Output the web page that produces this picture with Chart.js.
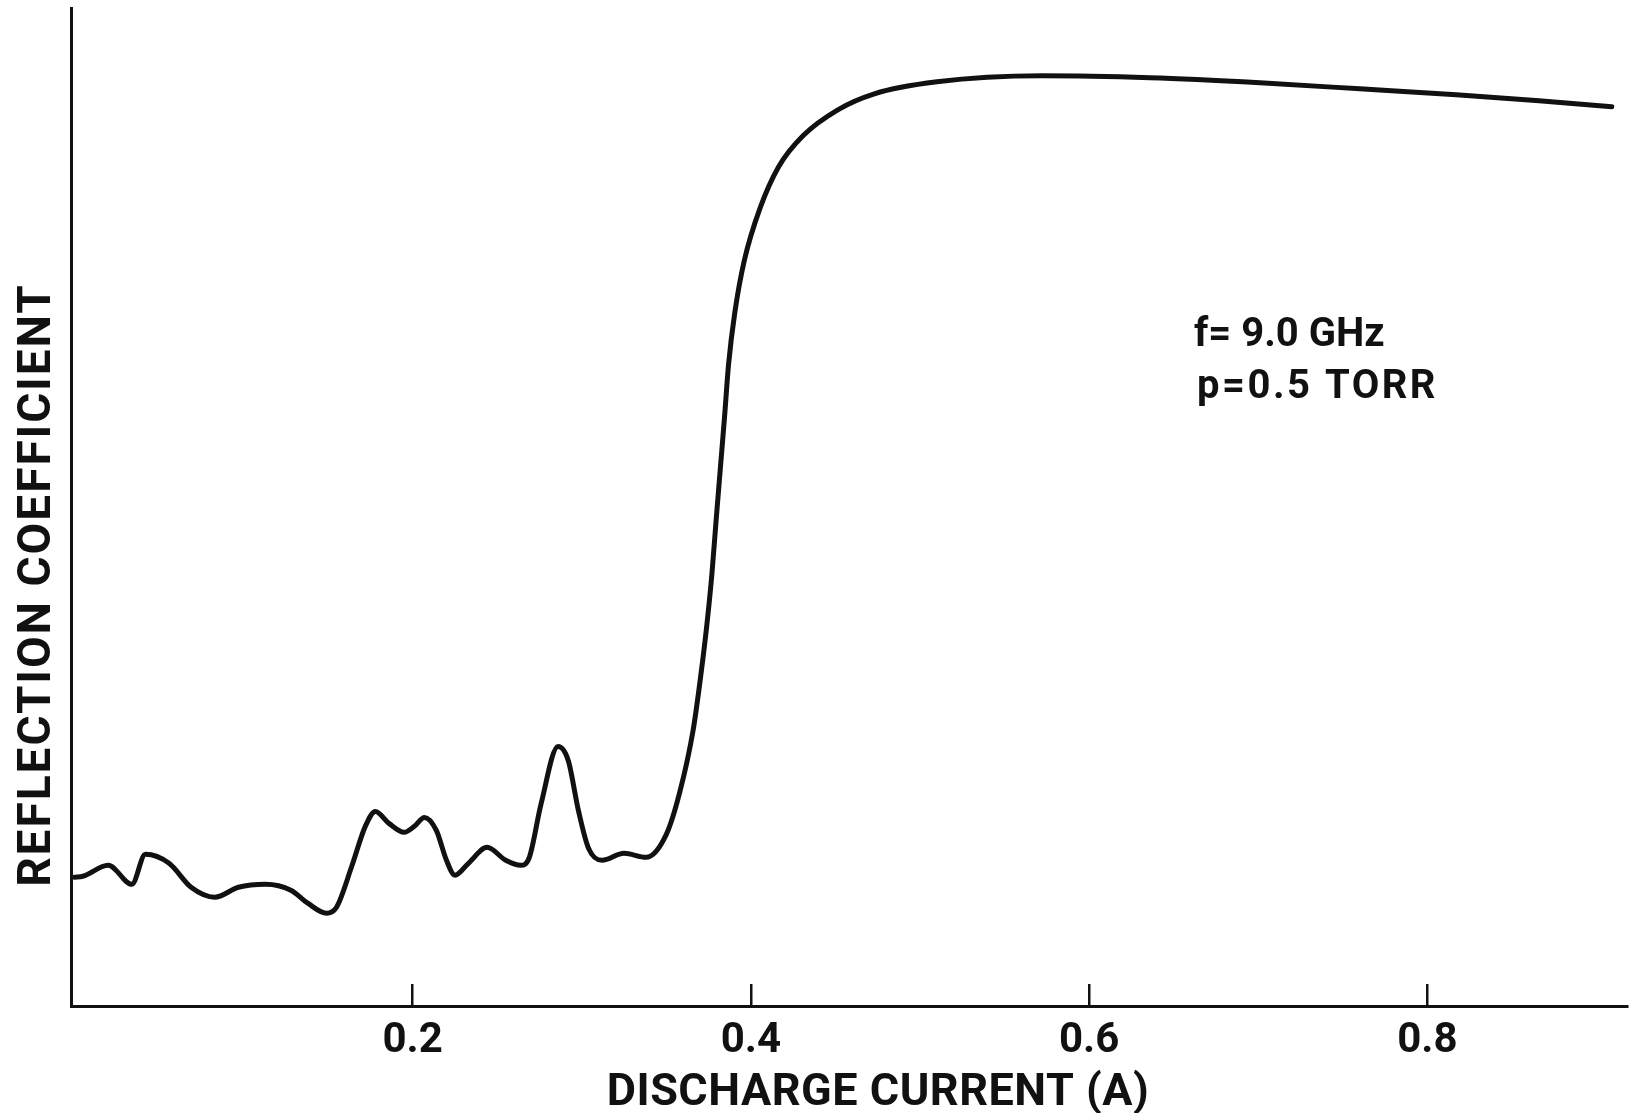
<!DOCTYPE html>
<html>
<head>
<meta charset="utf-8">
<title>Reflection coefficient vs discharge current</title>
<script src="https://cdn.jsdelivr.net/npm/chart.js@4/dist/chart.umd.min.js"></script>
<style>
  html, body { margin: 0; padding: 0; background: #ffffff; }
  #wrap { width: 1634px; height: 1113px; position: relative; }
</style>
</head>
<body>
<div id="wrap"><canvas id="chart"></canvas></div>
<script>
// Discharge current (A) along the trace
const currentA = [
  0.000, 0.005, 0.020, 0.034, 0.042, 0.056, 0.069, 0.083, 0.097, 0.113,
  0.128, 0.138, 0.149, 0.155, 0.164, 0.172, 0.178, 0.186, 0.195, 0.201,
  0.207, 0.214, 0.220, 0.225, 0.233, 0.244, 0.255, 0.264, 0.269, 0.276,
  0.286, 0.292, 0.298, 0.304, 0.312, 0.325, 0.338, 0.350, 0.3579, 0.3659,
  0.3702, 0.3739, 0.3770, 0.3794, 0.3819, 0.3844, 0.3868, 0.3905, 0.3961, 0.4053,
  0.4164, 0.4308, 0.4514, 0.4730, 0.510, 0.572, 0.636, 0.701, 0.760, 0.817,
  0.866, 0.909
];

// Reflection coefficient (relative units, full axis height = 1)
const reflection = [
  0.129, 0.130, 0.141, 0.122, 0.152, 0.143, 0.119, 0.109, 0.119, 0.122,
  0.116, 0.103, 0.093, 0.099, 0.140, 0.180, 0.195, 0.183, 0.174, 0.180,
  0.189, 0.176, 0.146, 0.131, 0.143, 0.159, 0.146, 0.141, 0.149, 0.203,
  0.260, 0.246, 0.196, 0.158, 0.146, 0.153, 0.149, 0.172, 0.214, 0.277,
  0.329, 0.381, 0.434, 0.486, 0.538, 0.590, 0.643, 0.695, 0.747, 0.799,
  0.841, 0.872, 0.898, 0.914, 0.926, 0.932, 0.930, 0.925, 0.919, 0.913,
  0.907, 0.901
];

// Current axis ticks
const tickValues = [0.2, 0.4, 0.6, 0.8];
const tickLabels = ['0.2', '0.4', '0.6', '0.8'];

const xTitle = 'DISCHARGE CURRENT (A)';
const yTitle = 'REFLECTION COEFFICIENT';
const noteLines = ['f= 9.0 GHz', 'p=0.5 TORR'];

const INK = '#111111';
const FONT = 'Roboto, "Liberation Sans", "DejaVu Sans", sans-serif';

// Axis titles and the operating-condition note
const figureText = {
  id: 'figureText',
  afterDraw(chart) {
    const { ctx, scales } = chart;
    ctx.save();
    ctx.fillStyle = INK;
    ctx.textBaseline = 'middle';

    ctx.font = `bold 45px ${FONT}`;
    ctx.textAlign = 'center';
    ctx.letterSpacing = '0.5px';
    ctx.fillText(xTitle, 878, 1094);

    ctx.save();
    ctx.translate(38, 585);
    ctx.rotate(-Math.PI / 2);
    ctx.font = `bold 46px ${FONT}`;
    ctx.letterSpacing = '2px';
    ctx.fillText(yTitle, 0, 0);
    ctx.restore();

    ctx.font = `bold 40px ${FONT}`;
    ctx.textAlign = 'left';
    const nx = scales.x.getPixelForValue(0.662);
    ctx.letterSpacing = '0px';
    ctx.fillText(noteLines[0], nx, scales.y.getPixelForValue(0.671));
    ctx.letterSpacing = '2.5px';
    ctx.fillText(noteLines[1], nx + 3, scales.y.getPixelForValue(0.619));
    ctx.restore();
  }
};

new Chart(document.getElementById('chart'), {
  type: 'line',
  data: {
    datasets: [{
      data: currentA.map((c, i) => ({ x: c, y: reflection[i] })),
      borderColor: INK,
      borderWidth: 5,
      pointRadius: 0,
      fill: false,
      cubicInterpolationMode: 'monotone',
      borderCapStyle: 'round',
      borderJoinStyle: 'round'
    }]
  },
  options: {
    responsive: true,
    maintainAspectRatio: false,
    devicePixelRatio: 1,
    animation: false,
    layout: { padding: { top: 8, right: 7, left: 0, bottom: 0 } },
    plugins: { legend: { display: false }, tooltip: { enabled: false } },
    scales: {
      x: {
        type: 'linear',
        min: -0.002,
        max: 0.918,
        afterBuildTicks: s => { s.ticks = tickValues.map(v => ({ value: v })); },
        afterFit: s => { s.height = 107; },
        grid: {
          display: true,
          drawOnChartArea: false,
          drawTicks: true,
          tickLength: -22,
          color: INK,
          lineWidth: 2.5
        },
        border: { display: true, color: INK, width: 3 },
        ticks: {
          autoSkip: false,
          maxRotation: 0,
          padding: 36,
          color: INK,
          font: { family: FONT, size: 42, weight: 'bold', lineHeight: 1 },
          callback: v => tickLabels[tickValues.indexOf(v)] ?? ''
        }
      },
      y: {
        min: 0,
        max: 1,
        afterFit: s => { s.width = 71; },
        grid: { display: false },
        border: { display: true, color: INK, width: 3 },
        ticks: { display: false }
      }
    }
  },
  plugins: [figureText]
});
</script>
</body>
</html>
